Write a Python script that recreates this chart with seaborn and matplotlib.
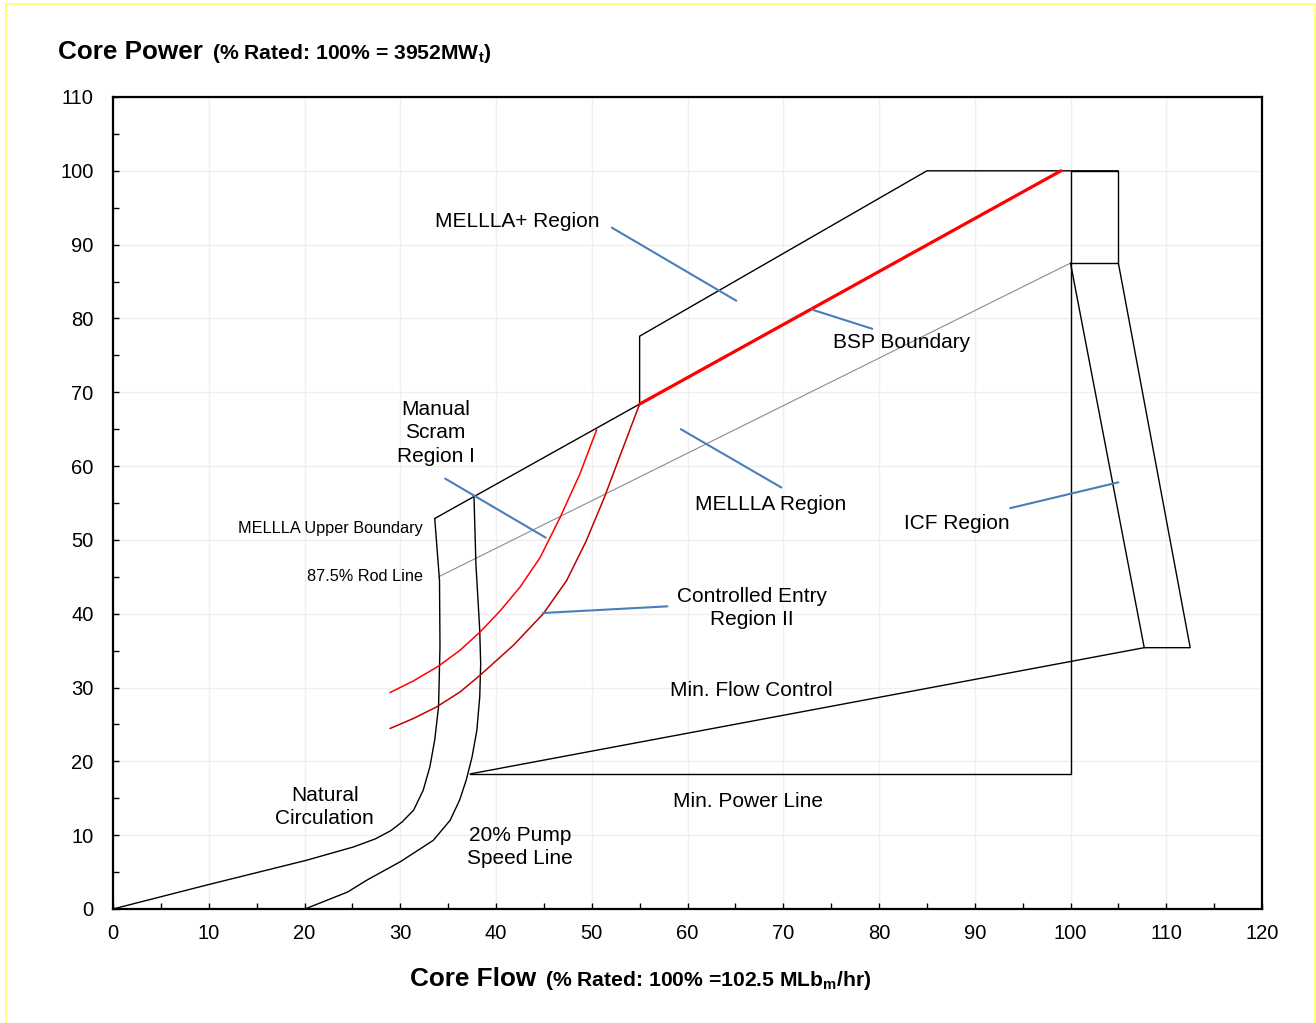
import matplotlib
matplotlib.use("Agg")
import matplotlib.pyplot as plt
import matplotlib.patches as mpatches
import numpy as np
import pandas as pd
import seaborn as sns

# ---- boundary curves (core flow %, core power %) ----
nat_circ_x = [0, 9.8, 20.2, 25.1, 27.4, 29.0, 30.2, 31.4, 32.4, 33.1, 33.6, 34.0, 34.15, 34.1, 33.6]
nat_circ_y = [0, 3.25, 6.6, 8.4, 9.5, 10.6, 11.8, 13.4, 16.1, 19.3, 22.9, 27.4, 35.5, 44.5, 52.9]

pump_x = [20.05, 24.5, 26.5, 30.0, 33.45, 35.2, 36.2, 36.9, 37.5, 38.0, 38.3, 38.4, 38.3, 37.9, 37.7]
pump_y = [0.0, 2.3, 3.9, 6.4, 9.3, 12.0, 14.75, 17.5, 20.6, 24.2, 28.7, 33.2, 37.8, 46.8, 55.9]

mellla_upper_x = [33.6, 55.0]
mellla_upper_y = [52.9, 68.4]

mellla_plus_x = [55.0, 55.0, 85.0, 105.0]
mellla_plus_y = [68.4, 77.6, 100.0, 100.0]

bsp_x = [55.0, 99.0]
bsp_y = [68.4, 100.0]

rod_line_x = [34.0, 100.0]
rod_line_y = [45.0, 87.5]

flow_limit_x = [100.0, 100.0]
flow_limit_y = [100.0, 18.3]

min_power_x = [37.3, 100.0]
min_power_y = [18.3, 18.3]

min_flow_x = [37.3, 107.7]
min_flow_y = [18.3, 35.4]

icf_box_x = [100.0, 105.0, 105.0, 100.0]
icf_box_y = [100.0, 100.0, 87.5, 87.5]

icf_band_x = [100.0, 107.7, 112.5, 105.0]
icf_band_y = [87.5, 35.4, 35.4, 87.5]

scram_x = [28.93, 31.36, 33.97, 36.24, 38.33, 40.42, 42.51, 44.6, 46.68, 48.77, 50.51]
scram_y = [29.32, 30.89, 32.88, 35.05, 37.52, 40.37, 43.61, 47.6, 53.0, 58.96, 64.91]

entry_x = [28.93, 31.36, 33.8, 36.24, 38.33, 41.81, 44.94, 47.38, 49.4, 51.3, 53.1, 54.97]
entry_y = [24.45, 25.8, 27.38, 29.4, 31.66, 35.72, 40.0, 44.5, 49.8, 55.7, 61.9, 68.3]

# ---- leader lines from labels to regions ----
leader_x0 = [52.1, 73.0, 34.7, 44.9, 59.3, 93.7]
leader_y0 = [92.3, 81.2, 58.3, 40.1, 65.0, 54.3]
leader_x1 = [65.1, 79.3, 45.2, 57.9, 69.8, 105.0]
leader_y1 = [82.4, 78.6, 50.3, 41.0, 57.1, 57.8]

# ---- region labels ----
label_text = ["MELLLA+ Region", "BSP Boundary", "Manual\nScram\nRegion I",
              "MELLLA Region", "ICF Region", "Controlled Entry\nRegion II",
              "Min. Flow Control", "Min. Power Line", "Natural\nCirculation",
              "20% Pump\nSpeed Line"]
label_x = [42.2, 82.4, 33.7, 68.7, 88.1, 66.7, 66.7, 66.3, 22.1, 42.5]
label_y = [93.1, 76.7, 64.5, 54.8, 52.2, 40.8, 29.6, 14.5, 13.8, 8.4]

small_text = ["MELLLA Upper Boundary", "87.5% Rod Line"]
small_x = [32.4, 32.4]
small_y = [51.6, 45.0]

x_ticks = list(range(0, 121, 10))
y_ticks = list(range(0, 111, 10))

sns.set_theme(style="white")
plt.rcParams["font.family"] = ["Liberation Sans", "DejaVu Sans"]
plt.rcParams["mathtext.fontset"] = "custom"
plt.rcParams["mathtext.rm"] = "Liberation Sans"
plt.rcParams["mathtext.it"] = "Liberation Sans:italic"
plt.rcParams["mathtext.bf"] = "Liberation Sans:bold"
for key in ["text.color", "axes.labelcolor", "xtick.color", "ytick.color"]:
    plt.rcParams[key] = "black"

W, H = 1316, 1023
fig = plt.figure(figsize=(W / 100, H / 100), dpi=100)
ax = fig.add_axes([113 / W, 1 - 909 / H, (1262 - 113) / W, (909 - 97) / H])


def draw(xs, ys, color="black", lw=1.0):
    df = pd.DataFrame({"x": xs, "y": ys})
    sns.lineplot(data=df, x="x", y="y", sort=False, estimator=None,
                 color=color, linewidth=lw, ax=ax, legend=False)


draw(rod_line_x, rod_line_y, color="#8c8c8c", lw=0.8)
for xs, ys in [(nat_circ_x, nat_circ_y), (pump_x, pump_y),
               (mellla_upper_x, mellla_upper_y), (mellla_plus_x, mellla_plus_y),
               (flow_limit_x, flow_limit_y), (min_power_x, min_power_y),
               (min_flow_x, min_flow_y), (icf_box_x, icf_box_y),
               (icf_band_x, icf_band_y)]:
    draw(xs, ys, color="black", lw=1.0)

draw(scram_x, scram_y, color="#ff0000", lw=1.1)
draw(entry_x, entry_y, color="#c00000", lw=1.1)
draw(bsp_x, bsp_y, color="#ff0000", lw=2.3)

for x0, y0, x1, y1 in zip(leader_x0, leader_y0, leader_x1, leader_y1):
    draw([x0, x1], [y0, y1], color="#4a7ebb", lw=1.5)

for t, x, y in zip(label_text, label_x, label_y):
    ax.text(x, y, t, fontsize=15, ha="center", va="center",
            linespacing=1.3, color="black")
for t, x, y in zip(small_text, small_x, small_y):
    ax.text(x, y, t, fontsize=11.7, ha="right", va="center", color="black")

ax.set_xlim(0, 120)
ax.set_ylim(0, 110)
ax.set_xticks(x_ticks)
ax.set_yticks(y_ticks)
ax.set_xticks(np.arange(5, 120, 10), minor=True)
ax.set_yticks(np.arange(5, 110, 10), minor=True)
ax.set_xlabel("")
ax.set_ylabel("")
ax.grid(True, which="major", color="#efefef", linewidth=1.0)
ax.set_axisbelow(True)
ax.tick_params(which="both", direction="in", length=4, width=1.0,
               color="black", bottom=True, left=True, top=False, right=False)
ax.tick_params(axis="x", which="major", labelsize=14.5, pad=11, labelcolor="black")
ax.tick_params(axis="y", which="major", labelsize=14.5, pad=14, labelcolor="black")
for s in ax.spines.values():
    s.set_visible(True)
    s.set_color("black")
    s.set_linewidth(1.6)

# axis titles
fig.text(58 / W, 1 - 59 / H, "Core Power", fontsize=18.8, fontweight="bold",
         ha="left", va="baseline", color="black")
fig.text(212 / W, 1 - 59 / H, r"(% Rated: 100% = 3952MW$_{\mathbf{t}}$)",
         fontsize=15.2, fontweight="bold", ha="left", va="baseline", color="black")
fig.text(410 / W, 1 - 986 / H, "Core Flow", fontsize=18.8, fontweight="bold",
         ha="left", va="baseline", color="black")
fig.text(545 / W, 1 - 986 / H, r"(% Rated: 100% =102.5 MLb$_{\mathbf{m}}$/hr)",
         fontsize=15.2, fontweight="bold", ha="left", va="baseline", color="black")

# thin yellow page border
fig.patches.append(mpatches.Rectangle((6 / W, -0.01), (1315 - 6) / W, 1.01 - 3.5 / H,
                                      transform=fig.transFigure, fill=False,
                                      edgecolor="#ffff66", linewidth=1.2))

fig.savefig("out.png", dpi=100)
